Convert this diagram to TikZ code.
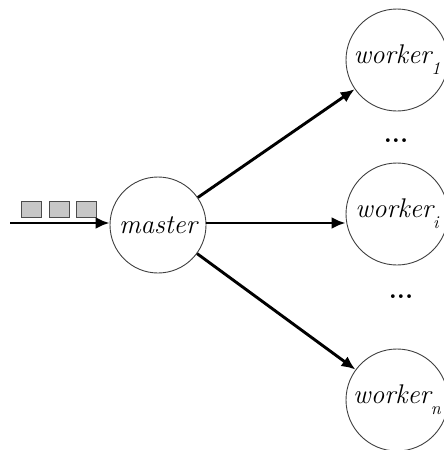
\documentclass[tikz,border=0pt]{standalone}
\usepackage{fontspec}
\usetikzlibrary{arrows.meta}
\newcommand{\wsub}[1]{\raisebox{-11pt}{\fontsize{18}{18}\selectfont\itshape #1}}

\begin{document}
\begin{tikzpicture}[
    x=1pt, y=-1pt,
    proc/.style={circle, draw=black!75, line width=0.9pt, inner sep=0pt, font=\fontsize{27}{27}\selectfont\itshape},
    masterc/.style={proc, minimum size=96pt},
    workerc/.style={proc, minimum size=102pt},
    task/.style={draw=black!70, fill=black!22, line width=0.8pt, minimum width=20pt, minimum height=16pt, inner sep=0pt},
    dots/.style={font=\fontsize{26}{26}\selectfont\bfseries, inner sep=0pt},
    arr/.style={-{Latex[length=14pt,width=12pt]}, line width=2.9pt}
  ]
    \useasboundingbox (0,0) rectangle (444,450);
    \node[masterc] (m) at (158,225) {master};
    \node[workerc] (w1) at (397,60) {worker\wsub{1}};
    \node[workerc] (wi) at (397,214) {worker\wsub{i}};
    \node[workerc] (wn) at (397,400) {worker\wsub{n}};
    \node[dots] (d1) at (396,141) {...};
    \node[dots] (d2) at (401,297) {...};
    \node[task] (q1) at (31,209) {};
    \node[task] (q2) at (59,209) {};
    \node[task] (q3) at (86,209) {};
    \coordinate (in) at (10,223);
    \draw[arr] (in) -- (in -| m.west);
    \draw[arr] (m.east |- in) -- (in -| wi.west);
    \draw[arr] (m) -- (w1);
    \draw[arr] (m) -- (wn);
\end{tikzpicture}
\end{document}
